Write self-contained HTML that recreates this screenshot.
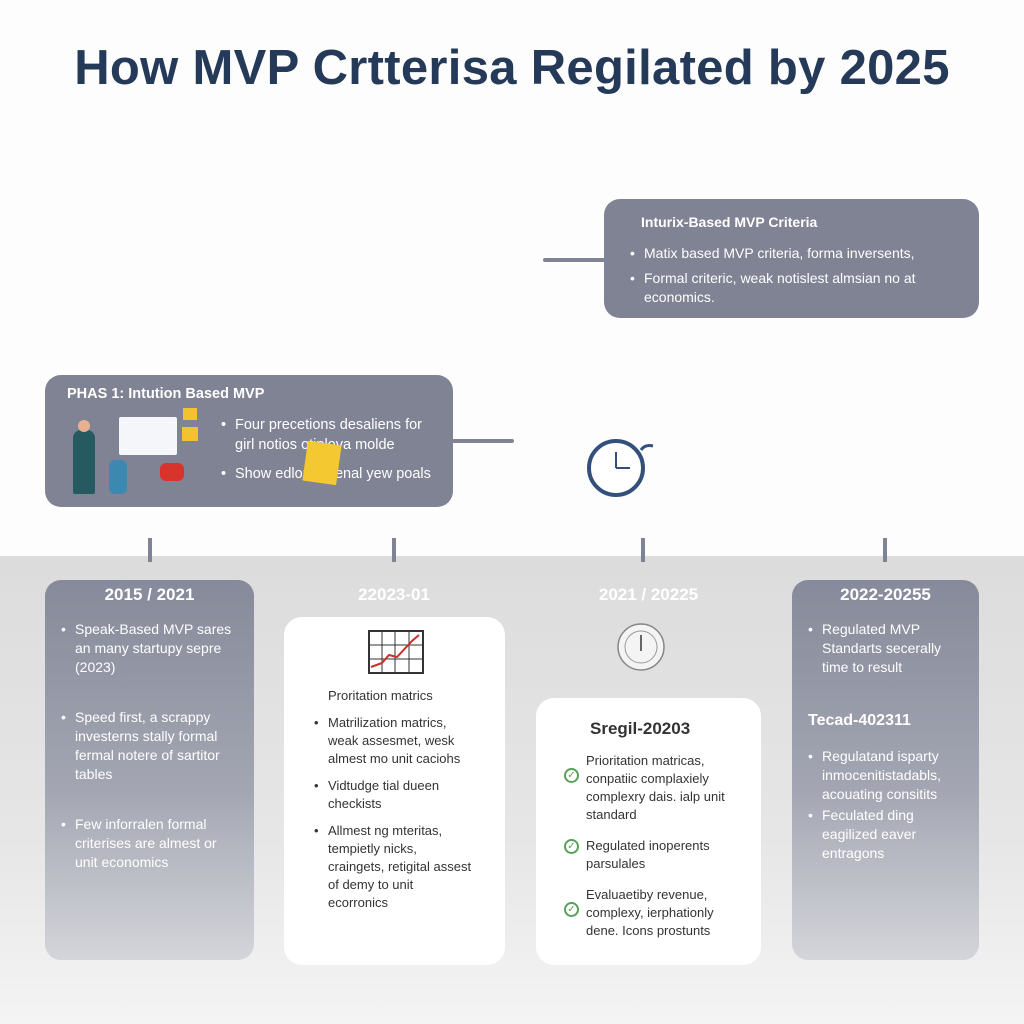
<!DOCTYPE html>
<html><head><meta charset="utf-8"><style>
*{margin:0;padding:0;box-sizing:border-box}
body{width:1024px;height:1024px;position:relative;overflow:hidden;background:#fdfdfd;font-family:"Liberation Sans",sans-serif}
.abs{position:absolute}
h1{position:absolute;left:0;width:1024px;top:40px;text-align:center;font-size:49px;font-weight:bold;color:#253a58;letter-spacing:0.3px}
.band{left:0;top:556px;width:1024px;height:468px;background:linear-gradient(#dcdcdc,#e6e6e6 60%,#f4f4f4)}
.gbox{background:#7f8394;border-radius:16px;color:#fff}
.side{background:linear-gradient(#868a9a,#a3a6b2 55%,#d4d5da);border-radius:16px;color:#fff;font-size:14px;line-height:19px}
.white{background:#fff;border-radius:18px;color:#333;font-size:13px;line-height:18px}
.yr{font-weight:bold;font-size:17px;color:#fff;text-align:center;position:absolute}
.line{background:#7f8394}
.b{position:relative;padding-left:14px}
.b:before{content:"•";position:absolute;left:0}
.chk{position:absolute;left:-22px;top:16px;width:15px;height:15px;border:2px solid #5aa05a;border-radius:50%;color:#5aa05a;font-size:10px;line-height:11px;text-align:center}
</style></head><body>
<h1>How MVP Crtterisa Regilated by 2025</h1>
<div class="abs band"></div>

<div class="abs line" style="left:543px;top:258px;width:62px;height:4px;border-radius:2px"></div>
<div class="abs gbox" style="left:604px;top:199px;width:375px;height:119px;font-size:14px;line-height:19px">
 <div class="abs" style="left:37px;top:14px;font-weight:bold">Inturix-Based MVP Criteria</div>
 <div class="abs" style="left:26px;top:45px;width:330px"><div class="b">Matix based MVP criteria, forma inversents,</div><div class="b" style="margin-top:6px">Formal criteric, weak notislest almsian no at economics.</div></div>
</div>

<div class="abs line" style="left:452px;top:439px;width:62px;height:4px;border-radius:2px"></div>
<div class="abs gbox" style="left:45px;top:375px;width:408px;height:132px;font-size:14.5px;line-height:20px">
 <div class="abs" style="left:22px;top:9px;font-weight:bold">PHAS 1: Intution Based MVP</div>
 <div class="abs" style="left:176px;top:40px;width:215px"><div class="b">Four precetions desaliens for girl notios otiplova molde</div><div class="b" style="margin-top:9px">Show edlom tatenal yew poals</div></div>
 <div class="abs" style="left:74px;top:42px;width:58px;height:38px;background:#f4f6fa;border-radius:2px"></div>
 <div class="abs" style="left:138px;top:33px;width:14px;height:12px;background:#f2c230"></div>
 <div class="abs" style="left:137px;top:52px;width:16px;height:14px;background:#f2c230"></div>
 <div class="abs" style="left:28px;top:55px;width:22px;height:64px;background:#245a60;border-radius:8px 8px 2px 2px"></div>
 <div class="abs" style="left:33px;top:45px;width:12px;height:12px;background:#e8b090;border-radius:50%"></div>
 <div class="abs" style="left:115px;top:88px;width:24px;height:18px;background:#d8342c;border-radius:6px"></div>
 <div class="abs" style="left:64px;top:85px;width:18px;height:34px;background:#3c88b0;border-radius:6px"></div>
 <div class="abs" style="left:260px;top:68px;width:34px;height:40px;background:#f4c830;transform:rotate(8deg)"></div>
</div>

<svg class="abs" style="left:583px;top:432px" width="82" height="70"><circle cx="33" cy="36" r="27" fill="#fff" stroke="#33507a" stroke-width="4"/><line x1="33" y1="36" x2="33" y2="20" stroke="#33507a" stroke-width="2"/><line x1="33" y1="36" x2="47" y2="36" stroke="#33507a" stroke-width="2"/><path d="M58 18 Q62 12 70 14" stroke="#33507a" stroke-width="3" fill="none"/></svg>

<div class="abs line" style="left:148px;top:538px;width:4px;height:24px"></div>
<div class="abs line" style="left:392px;top:538px;width:4px;height:24px"></div>
<div class="abs line" style="left:641px;top:538px;width:4px;height:24px"></div>
<div class="abs line" style="left:883px;top:538px;width:4px;height:24px"></div>

<div class="abs side" style="left:45px;top:580px;width:209px;height:380px">
 <div class="yr" style="left:0;width:209px;top:5px">2015 / 2021</div>
 <div class="abs" style="left:16px;top:40px;width:175px">
 <div class="b">Speak-Based MVP sares an many startupy sepre (2023)</div>
 <div class="b" style="margin-top:31px">Speed first, a scrappy investerns stally formal fermal notere of sartitor tables</div>
 <div class="b" style="margin-top:31px">Few inforralen formal criterises are almest or unit economics</div></div>
</div>

<div class="yr" style="left:284px;width:220px;top:585px">22023-01</div>
<div class="abs white" style="left:284px;top:617px;width:221px;height:348px">
 <svg class="abs" style="left:83px;top:12px" width="58" height="46"><rect x="2" y="2" width="54" height="42" fill="none" stroke="#333" stroke-width="2"/><path d="M2 16H56M2 30H56M15 2V44M28 2V44M42 2V44" stroke="#333"/><path d="M4 38 L15 34 L22 26 L30 28 L45 12 L52 6" stroke="#c8302c" stroke-width="2" fill="none"/></svg>
 <div class="abs" style="left:44px;top:70px">Proritation matrics</div>
 <div class="abs" style="left:30px;top:97px;width:160px">
 <div class="b">Matrilization matrics, weak assesmet, wesk almest mo unit caciohs</div>
 <div class="b" style="margin-top:9px">Vidtudge tial dueen checkists</div>
 <div class="b" style="margin-top:9px">Allmest ng mteritas, tempietly nicks, craingets, retigital assest of demy to unit ecorronics</div></div>
</div>

<div class="yr" style="left:536px;width:225px;top:585px">2021 / 20225</div>
<svg class="abs" style="left:614px;top:623px" width="54" height="48"><circle cx="27" cy="24" r="23" fill="#f4f4f4" stroke="#888" stroke-width="1.5"/><circle cx="27" cy="24" r="16" fill="none" stroke="#999"/><path d="M27 12V28" stroke="#666" stroke-width="2"/></svg>
<div class="abs white" style="left:536px;top:698px;width:225px;height:267px">
 <div class="abs" style="left:54px;top:22px;font-size:17px;font-weight:bold;color:#333">Sregil-20203</div>
 <div class="abs" style="left:50px;top:54px;width:150px">
 <div style="position:relative">Prioritation matricas, conpatiic complaxiely complexry dais. ialp unit standard<div class="chk">✓</div></div>
 <div style="position:relative;margin-top:13px">Regulated inoperents parsulales<div class="chk" style="top:2px">✓</div></div>
 <div style="position:relative;margin-top:13px">Evaluaetiby revenue, complexy, ierphationly dene. Icons prostunts<div class="chk">✓</div></div></div>
</div>

<div class="abs side" style="left:792px;top:580px;width:187px;height:380px">
 <div class="yr" style="left:0;width:187px;top:5px">2022-20255</div>
 <div class="abs" style="left:16px;top:40px;width:160px">
 <div class="b">Regulated MVP Standarts secerally time to result</div>
 <div style="margin-top:34px;font-weight:bold;font-size:16px">Tecad-402311</div>
 <div class="b" style="margin-top:17px">Regulatand isparty inmocenitistadabls, acouating consitits</div>
 <div class="b" style="margin-top:2px">Feculated ding eagilized eaver entragons</div></div>
</div>
</body></html>
